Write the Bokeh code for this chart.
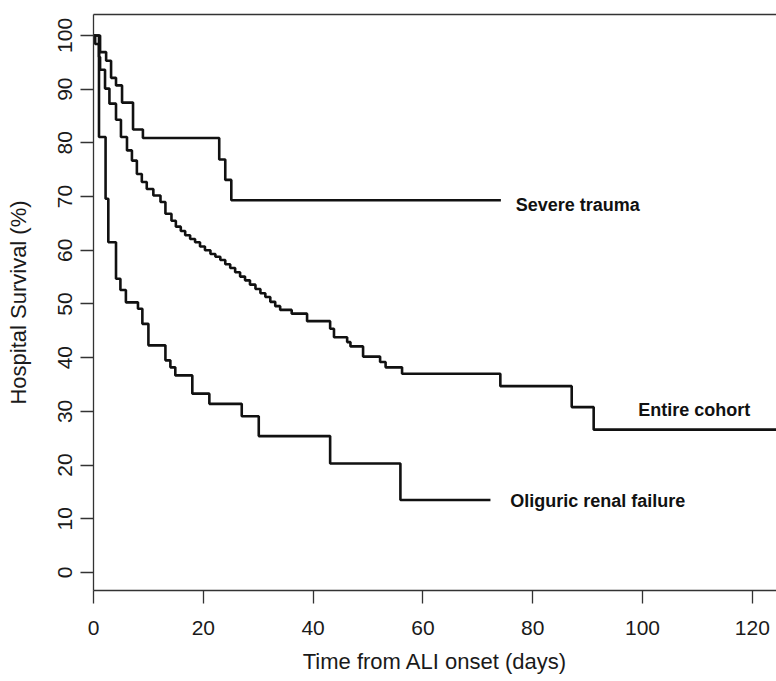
import math
from bokeh.plotting import figure
from bokeh.models import Range1d, FixedTicker, LinearAxis, Label
from bokeh.embed import file_html
from bokeh.resources import INLINE

# ---- data ----
x_ticks = [0, 20, 40, 60, 80, 100, 120]
y_ticks = [0, 10, 20, 30, 40, 50, 60, 70, 80, 90, 100]

severe_time = [0, 1.2, 2.3, 3.2, 4.1, 5.2, 7.2, 9.0, 22.9, 24.0, 25.1]
severe_surv = [100, 96.9, 95.3, 92.1, 90.7, 87.5, 82.5, 80.9, 76.9, 73.1, 69.3]
severe_end = 74.2

cohort_time = [0, 0.3, 1.0, 1.2, 2.1, 2.9, 4.1, 5.0, 6.1, 7.0,
               7.9, 8.8, 9.7, 10.9, 12.2, 13.1, 14.2, 15.0, 15.9, 16.7,
               17.6, 18.5, 19.4, 20.3, 21.3, 22.2, 23.1, 24.0, 24.9, 25.8,
               26.7, 27.6, 28.5, 29.5, 30.4, 31.3, 32.2, 33.1, 34.0, 36.1,
               38.9, 43.1, 43.8, 46.2, 46.8, 49.1, 52.2, 53.2, 56.2, 74.1,
               87.1, 91.1]
cohort_surv = [100, 98.4, 96.0, 93.6, 90.1, 87.3, 84.3, 81.1, 78.6, 76.7,
               74.2, 72.7, 71.4, 70.2, 69.0, 66.8, 65.5, 64.4, 63.6, 62.8,
               62.1, 61.5, 60.7, 60.0, 59.3, 58.8, 58.2, 57.4, 56.7, 55.9,
               55.1, 54.4, 53.6, 52.8, 52.0, 51.3, 50.4, 49.6, 48.9, 48.2,
               46.8, 45.4, 43.8, 42.9, 42.1, 40.2, 39.2, 38.2, 37.0, 34.7,
               30.8, 26.6]
cohort_end = 126.0

oliguric_time = [0, 1.0, 2.2, 2.7, 4.1, 4.9, 5.9, 8.1, 8.9, 10.0,
                 13.1, 14.0, 14.9, 18.0, 21.1, 27.0, 30.1, 43.1, 55.9]
oliguric_surv = [100, 81.1, 69.6, 61.5, 54.7, 52.6, 50.3, 49.1, 46.3, 42.3,
                 39.5, 38.2, 36.7, 33.3, 31.4, 29.1, 25.4, 20.3, 13.5]
oliguric_end = 72.3

curve_names = ["Severe trauma", "Entire cohort", "Oliguric renal failure"]

# ---- figure ----
FONT = "Liberation Sans"
X_END = 124.4
p = figure(width=776, height=681, output_backend="svg", toolbar_location=None,
           x_range=Range1d(0, X_END), y_range=Range1d(-3.35, 103.9),
           min_border_left=93, min_border_right=0, min_border_top=14,
           min_border_bottom=91)
p.outline_line_color = None
p.grid.visible = False
p.background_fill_color = "white"

for ax in (p.xaxis[0], p.yaxis[0]):
    ax.axis_line_color = "#333333"
    ax.axis_line_width = 1.3
    ax.major_tick_line_color = "#333333"
    ax.major_tick_line_width = 1.3
    ax.major_tick_out = 13
    ax.major_tick_in = 0
    ax.minor_tick_line_color = None
    ax.major_label_text_font = FONT
    ax.major_label_text_font_size = "21px"
    ax.major_label_text_color = "#1a1a1a"
    ax.axis_label_text_font = FONT
    ax.axis_label_text_font_size = "22px"
    ax.axis_label_text_font_style = "normal"
    ax.axis_label_text_color = "#1a1a1a"

p.xaxis[0].ticker = FixedTicker(ticks=x_ticks)
p.yaxis[0].ticker = FixedTicker(ticks=y_ticks)
p.xaxis[0].axis_label = "Time from ALI onset (days)"
p.yaxis[0].axis_label = "Hospital Survival (%)"
p.xaxis[0].major_label_standoff = 17
p.xaxis[0].axis_label_standoff = 11
p.yaxis[0].major_label_orientation = "vertical"
p.yaxis[0].major_label_standoff = 8
p.yaxis[0].axis_label_standoff = 25

# top border drawn as a bare axis
top = LinearAxis(ticker=FixedTicker(ticks=[]), axis_line_color="#333333",
                 axis_line_width=1.3, major_tick_line_color=None,
                 minor_tick_line_color=None, major_label_text_font_size="0px",
                 major_label_standoff=0, axis_label_standoff=0)
p.add_layout(top, "above")

def km(times, surv, end):
    xs = list(times) + [end]
    ys = list(surv) + [surv[-1]]
    p.step(xs, ys, mode="after", line_color="#111111", line_width=2.6)

km(severe_time, severe_surv, severe_end)
km(cohort_time, cohort_surv, cohort_end)
km(oliguric_time, oliguric_surv, oliguric_end)

label_pos = [(76.9, 68.4), (99.2, 30.2), (75.9, 13.4)]
for name, (lx, ly) in zip(curve_names, label_pos):
    p.add_layout(Label(x=lx, y=ly, text=name, text_font=FONT,
                       text_font_size="18px", text_font_style="bold",
                       text_color="#111111", text_baseline="middle",
                       text_align="left"))

open("out.html", "w").write(file_html(p, INLINE))
